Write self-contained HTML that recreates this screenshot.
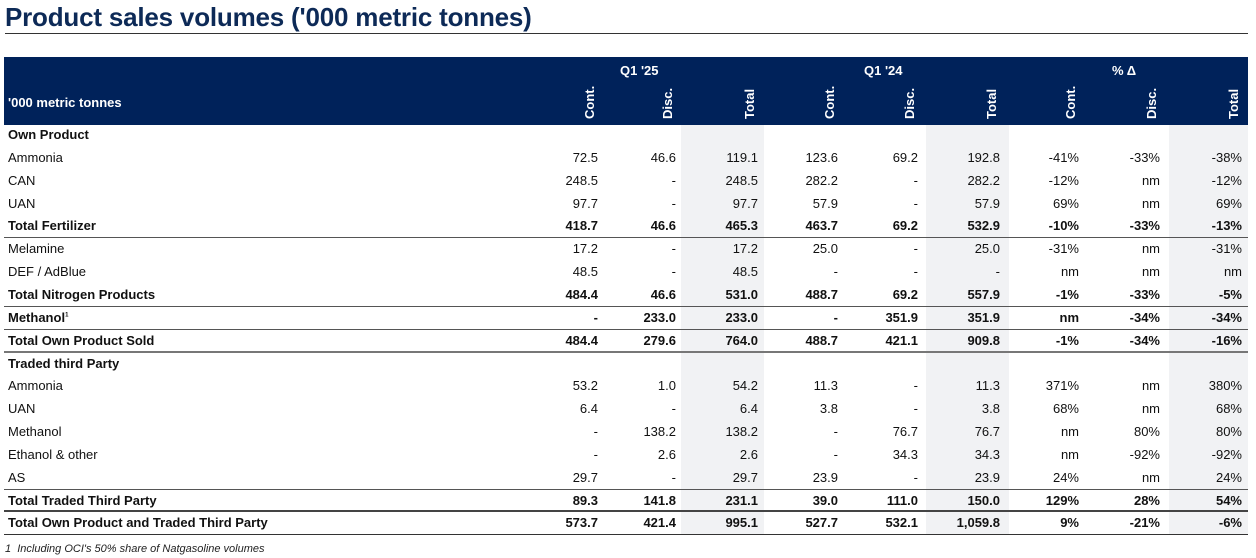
<!DOCTYPE html>
<html><head><meta charset="utf-8"><style>
body{margin:0;width:1256px;height:558px;background:#fff;font-family:"Liberation Sans",Arial,sans-serif;position:relative;overflow:hidden;color:#111}
.t{position:absolute;white-space:nowrap}
#title{left:5px;top:2px;font-size:26px;font-weight:bold;color:#0d2a57;letter-spacing:-0.2px}
#rule{position:absolute;left:5px;top:33px;width:1243px;height:1px;background:#333}
#hdr{position:absolute;left:4px;top:57px;width:1244px;height:68px;background:#00225a}
.h{color:#fff;font-weight:bold;font-size:13px}
.v{transform:rotate(-90deg);transform-origin:left top}
.shade{position:absolute;top:125px;height:410px;background:#f1f2f4}
.cell{position:absolute;font-size:13px;text-align:right;width:80px}
.lbl{position:absolute;left:8px;font-size:13px}
.ln{position:absolute;left:4px;width:1244px}
</style></head><body>
<div id="title" class="t">Product sales volumes ('000 metric tonnes)</div>
<div id="rule"></div>
<div class="shade" style="left:681px;width:83px"></div>
<div class="shade" style="left:926px;width:83px"></div>
<div class="shade" style="left:1169px;width:79px"></div>
<div id="hdr">
 <div class="t h" style="left:4px;top:38px">'000 metric tonnes</div>
 <div class="t h" style="left:616px;top:6px">Q1 '25</div>
 <div class="t h" style="left:860px;top:6px">Q1 '24</div>
 <div class="t h" style="left:1108px;top:6px">% Δ</div>
</div>
<div id="body"></div>
<div class="t" style="left:5px;top:543px;font-size:11px;font-style:italic;color:#222">1 &nbsp;Including OCI's 50% share of Natgasoline volumes</div>
<script>
const colRights=[598,676,758,838,918,1000,1079,1160,1242];
const colHeads=["Cont.","Disc.","Total","Cont.","Disc.","Total","Cont.","Disc.","Total"];
const rowLabels=["Own Product","Ammonia","CAN","UAN","Total Fertilizer","Melamine","DEF / AdBlue","Total Nitrogen Products","Methanol","Total Own Product Sold","Traded third Party","Ammonia","UAN","Methanol","Ethanol & other","AS","Total Traded Third Party","Total Own Product and Traded Third Party"];
const boldRows=[0,4,7,8,9,10,16,17];
const rowValues=[
 null,
 ["72.5","46.6","119.1","123.6","69.2","192.8","-41%","-33%","-38%"],
 ["248.5","-","248.5","282.2","-","282.2","-12%","nm","-12%"],
 ["97.7","-","97.7","57.9","-","57.9","69%","nm","69%"],
 ["418.7","46.6","465.3","463.7","69.2","532.9","-10%","-33%","-13%"],
 ["17.2","-","17.2","25.0","-","25.0","-31%","nm","-31%"],
 ["48.5","-","48.5","-","-","-","nm","nm","nm"],
 ["484.4","46.6","531.0","488.7","69.2","557.9","-1%","-33%","-5%"],
 ["-","233.0","233.0","-","351.9","351.9","nm","-34%","-34%"],
 ["484.4","279.6","764.0","488.7","421.1","909.8","-1%","-34%","-16%"],
 null,
 ["53.2","1.0","54.2","11.3","-","11.3","371%","nm","380%"],
 ["6.4","-","6.4","3.8","-","3.8","68%","nm","68%"],
 ["-","138.2","138.2","-","76.7","76.7","nm","80%","80%"],
 ["-","2.6","2.6","-","34.3","34.3","nm","-92%","-92%"],
 ["29.7","-","29.7","23.9","-","23.9","24%","nm","24%"],
 ["89.3","141.8","231.1","39.0","111.0","150.0","129%","28%","54%"],
 ["573.7","421.4","995.1","527.7","532.1","1,059.8","9%","-21%","-6%"]
];
const hdr=document.getElementById('hdr');
colHeads.forEach((h,i)=>{
 const d=document.createElement('div');
 d.className='t h v';
 d.textContent=h;
 d.style.left=(colRights[i]-4-16)+'px';
 d.style.top='62px';
 
 
 hdr.appendChild(d);
});
const body=document.getElementById('body');
const pitch=22.85, top0=124;
rowLabels.forEach((lab,r)=>{
 const y=top0+r*pitch+3;
 const bold=boldRows.includes(r);
 const l=document.createElement('div');
 l.className='t lbl';
 l.style.top=y+'px';
 if(bold) l.style.fontWeight='bold';
 l.innerHTML=lab+(r===8?'<sup style="font-size:6px">1</sup>':'');
 
 
 body.appendChild(l);
 const vals=rowValues[r];
 if(vals) vals.forEach((v,c)=>{
  const d=document.createElement('div');
  d.className='t cell';
  d.textContent=v;
  d.style.left=(colRights[c]-80)+'px';
  d.style.top=y+'px';
  if(bold) d.style.fontWeight='bold';
  
  
  body.appendChild(d);
 });
});
const lines=[[237,1,'#555'],[306,1,'#555'],[329,1,'#555'],[351,2,'#777'],[489,1,'#555'],[510,2,'#444'],[534,1,'#333']];
lines.forEach((L,i)=>{
 const d=document.createElement('div');
 d.className='ln';
 d.style.top=L[0]+'px';d.style.height=L[1]+'px';d.style.background=L[2];
 
 
 body.appendChild(d);
});
</script>
</body></html>
